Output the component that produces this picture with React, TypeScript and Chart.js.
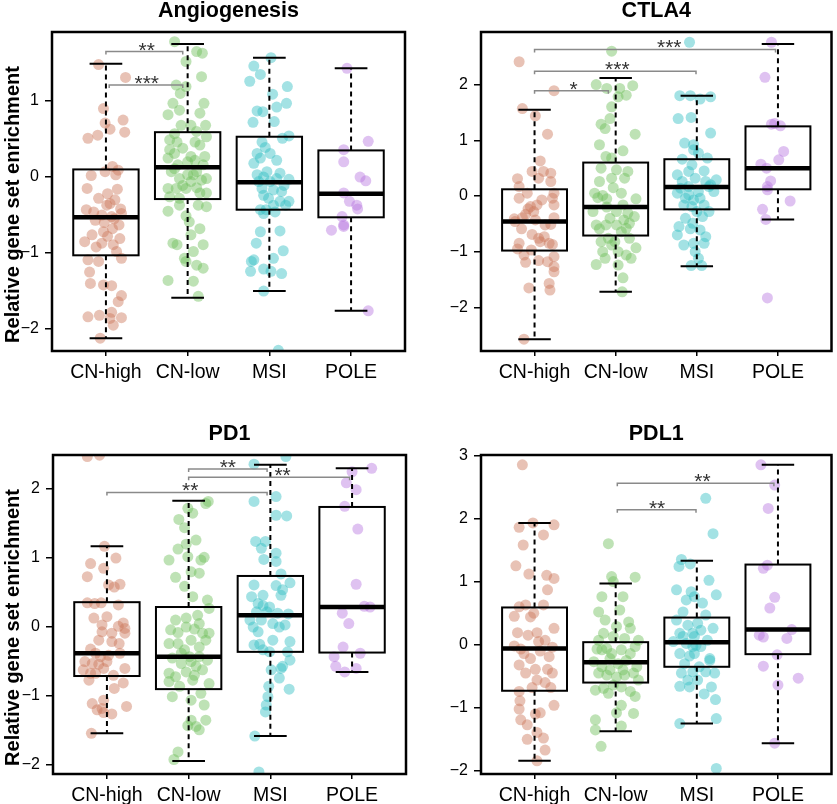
import React, { useEffect, useRef } from "react";
import { Chart, registerables } from "chart.js";

Chart.register(...registerables);

type Pt = [number, number]; // [horizontal jitter in category units, value]

const FONT = "'Liberation Sans', Arial, Helvetica, sans-serif";
const CATEGORIES = ["CN-high", "CN-low", "MSI", "POLE"];
const Y_AXIS_TITLE = "Relative gene set enrichment";
const POINT_COLORS = [
  "rgba(205,120,90,0.45)",
  "rgba(110,190,90,0.45)",
  "rgba(50,190,195,0.45)",
  "rgba(185,120,225,0.45)",
];

// ---------------- Angiogenesis ----------------
const ANGIO_CN_HIGH: Pt[] = [
  [-0.07, -2.12], [-0.09, 1.48], [0.24, 1.31], [-0.03, 0.9], [0.21, 0.75], [-0.01, 0.71], [0.05, 0.63], [-0.22, 0.51],
  [-0.1, 0.55], [0.23, 0.59], [0.08, 0.14], [-0.01, 0.07], [0.15, 0.09], [0.12, 0.03], [-0.23, -0.15], [0.14, -0.16],
  [-0.09, -0.28], [0.01, -0.37], [0.11, -0.3], [-0.24, -0.43], [-0.15, -0.46], [-0.05, -0.5], [-0.13, -0.57], [0.19, -0.48],
  [0.07, -0.52], [0.16, -0.63], [-0.03, -0.72], [-0.17, -0.76], [-0.26, -0.85], [-0.05, -0.87], [0.17, -0.81], [0.09, -0.89],
  [0.13, -0.98], [-0.22, -1.09], [-0.09, -1.11], [0.19, -1.07], [-0.2, -1.25], [-0.19, -1.4], [-0.03, -1.42], [0.07, -1.43],
  [0.19, -1.56], [0.15, -1.64], [-0.22, -1.84], [-0.08, -1.82], [0.07, -1.78], [0.19, -1.85], [0.09, -1.95], [0.05, -1.86],
  [0.05, -0.35], [0.1, -0.55], [-0.02, -0.6], [0.18, -0.42], [0.08, -0.68], [0.02, -0.78], [-0.12, -0.92], [-0.18, 0.02],
  [0.02, -0.22],
];
const ANGIO_CN_LOW: Pt[] = [
  [-0.16, 1.78], [0.11, 1.65], [0.18, 1.63], [-0.02, 1.52], [0.17, 1.32], [-0.14, 1.21], [-0.02, 1.19], [-0.09, 1.1],
  [-0.18, 0.97], [0.2, 0.97], [-0.1, 0.88], [-0.24, 0.82], [0.15, 0.84], [0.04, 0.68], [0.22, 0.68], [0.11, 0.6],
  [-0.22, 0.49], [-0.13, 0.46], [-0.22, 0.36], [-0.06, 0.38], [0.15, 0.42], [0.23, 0.53], [0.04, 0.27], [0.0, 0.2],
  [0.09, 0.22], [-0.12, 0.16], [0.19, 0.16], [0.23, -0.02], [-0.1, -0.02], [0.0, 0.03], [0.11, 0.07], [-0.24, -0.15],
  [-0.14, -0.15], [-0.02, -0.15], [0.11, -0.14], [0.23, -0.21], [0.15, -0.21], [-0.22, -0.26], [-0.1, -0.28], [-0.24, -0.45],
  [-0.02, -0.51], [0.13, -0.37], [0.15, -0.68], [0.04, -0.76], [-0.18, -0.87], [-0.13, -0.89], [0.19, -0.89], [0.07, -0.98],
  [-0.02, -1.11], [0.11, -1.16], [0.19, -1.2], [-0.24, -1.36], [0.07, -1.37], [0.13, -1.57], [-0.04, -1.07], [-0.2, 0.07],
  [0.17, -0.04], [-0.16, 0.11], [0.07, 0.03], [-0.06, -0.11], [0.04, -0.06], [-0.24, 0.25], [-0.16, 0.31], [0.21, 0.27],
  [-0.08, 0.68], [-0.16, 0.57], [0.09, 0.46], [-0.1, -0.37], [0.23, -0.39], [0.02, -0.59],
];
const ANGIO_MSI: Pt[] = [
  [0.02, 1.57], [-0.19, 1.46], [-0.11, 1.35], [-0.24, 1.26], [0.22, 1.19], [0.04, 1.09], [0.21, 0.97], [0.09, 0.92],
  [-0.15, 0.87], [-0.08, 0.86], [-0.2, 0.72], [0.06, 0.73], [0.24, 0.54], [0.16, 0.51], [-0.09, 0.46], [-0.05, 0.39],
  [-0.15, 0.31], [-0.19, 0.18], [0.09, 0.22], [-0.15, 0.03], [-0.07, 0.0], [0.13, 0.05], [0.24, -0.03], [0.01, -0.06],
  [0.18, -0.11], [-0.09, -0.15], [0.05, -0.17], [-0.07, -0.24], [0.13, -0.32], [0.2, -0.37], [0.05, -0.37], [-0.11, -0.43],
  [-0.07, -0.48], [-0.11, -0.72], [0.13, -0.71], [-0.16, -0.87], [0.17, -0.97], [-0.22, -1.11], [-0.19, -1.09], [-0.23, -1.24],
  [0.05, -1.07], [-0.07, -1.21], [0.02, -1.24], [0.15, -1.27], [-0.07, -1.5], [0.11, -2.28], [-0.03, 0.07], [0.09, -0.02],
  [-0.13, -0.06], [-0.01, -0.28], [0.24, -0.32], [0.15, -0.19], [0.01, 0.31], [-0.11, 0.25], [-0.04, -0.43], [0.07, -0.46],
];
const ANGIO_POLE: Pt[] = [
  [-0.05, 1.43], [0.21, 0.47], [-0.09, 0.36], [-0.09, 0.2], [0.11, 0.0], [0.18, -0.05], [-0.09, -0.21], [-0.02, -0.32],
  [0.07, -0.37], [0.08, -0.42], [-0.11, -0.52], [-0.09, -0.63], [-0.09, -0.65], [-0.24, -0.7], [0.21, -1.76],
];
const ANGIO_WHISKER_LOW = [-2.12, -1.59, -1.5, -1.76];
const ANGIO_Q1 = [-1.03, -0.29, -0.43, -0.53];
const ANGIO_MEDIAN = [-0.53, 0.13, -0.07, -0.22];
const ANGIO_Q3 = [0.1, 0.59, 0.53, 0.35];
const ANGIO_WHISKER_HIGH = [1.49, 1.75, 1.57, 1.43];
const ANGIO_Y_RANGE = [-2.289, 1.908];
const ANGIO_Y_TICKS = [-2, -1, 0, 1];
const ANGIO_SIG_FROM = [1.0, 1.04];
const ANGIO_SIG_TO = [1.94, 1.94];
const ANGIO_SIG_Y = [1.65, 1.21];
const ANGIO_SIG_LABEL = ["**", "***"];
const ANGIO_SIG_LABEL_X = [1.5, 1.5];

// ---------------- CTLA4 ----------------
const CTLA4_CN_HIGH: Pt[] = [
  [-0.19, 2.41], [0.24, 1.89], [-0.15, 1.57], [0.01, 1.44], [0.16, 1.11], [0.07, 0.63], [-0.03, 0.44], [0.11, 0.44],
  [0.2, 0.41], [-0.21, 0.31], [0.05, 0.32], [0.2, 0.26], [-0.19, 0.17], [0.24, 0.05], [0.22, -0.04], [-0.05, -0.19],
  [-0.08, -0.23], [0.24, -0.16], [-0.11, -0.33], [-0.25, -0.41], [-0.15, -0.39], [0.2, -0.51], [-0.16, -0.59], [-0.03, -0.69],
  [0.05, -0.76], [0.12, -0.73], [0.18, -0.85], [0.22, -0.87], [0.07, -0.82], [-0.19, -0.85], [-0.21, -0.95], [-0.04, -0.97],
  [0.24, -1.09], [-0.11, -1.19], [0.05, -1.16], [0.16, -1.18], [0.24, -1.27], [0.24, -1.36], [-0.07, -1.65], [0.18, -1.57],
  [0.19, -1.69], [-0.13, -2.57], [-0.24, -0.46], [0.01, -0.43], [0.13, -0.52], [-0.09, 0.05], [0.03, -0.16], [-0.01, -0.28],
  [-0.19, -0.04], [0.24, -0.39], [0.09, -0.07], [-0.13, -1.06],
];
const CTLA4_CN_LOW: Pt[] = [
  [-0.05, 2.6], [-0.24, 2.0], [-0.11, 1.93], [0.05, 1.93], [0.21, 1.98], [0.13, 1.81], [0.03, 1.78], [-0.05, 1.6],
  [-0.07, 1.39], [-0.13, 1.21], [-0.18, 1.29], [0.24, 1.11], [-0.2, 0.92], [0.09, 0.81], [-0.12, 0.71], [-0.05, 0.68],
  [0.15, 0.44], [-0.18, 0.5], [0.01, 0.47], [-0.05, 0.32], [0.11, 0.32], [-0.22, -0.03], [-0.16, 0.01], [-0.11, -0.05],
  [0.07, 0.05], [0.25, -0.05], [-0.28, -0.28], [0.15, -0.31], [0.23, -0.37], [0.1, -0.43], [0.17, -0.49], [0.01, -0.52],
  [-0.12, -0.52], [-0.2, -0.59], [0.07, -0.64], [0.25, -0.93], [-0.05, -0.88], [-0.16, -1.0], [-0.13, -1.12], [0.13, -1.06],
  [0.03, -1.24], [-0.24, -1.23], [0.09, -1.47], [0.08, -1.72], [-0.09, -0.76], [-0.01, -0.82], [-0.18, -0.82], [0.17, -0.76],
  [-0.24, -0.52], [-0.07, -0.4], [0.13, -0.58], [0.01, -0.28], [-0.11, -0.2], [-0.26, 0.05], [-0.03, 0.15], [-0.2, 0.26],
  [0.03, -1.0], [0.19, -1.12], [0.09, -0.16],
];
const CTLA4_MSI: Pt[] = [
  [-0.09, 2.76], [-0.21, 1.8], [-0.08, 1.8], [0.17, 1.78], [0.04, 1.74], [-0.23, 1.39], [-0.07, 1.41], [0.17, 1.13],
  [-0.15, 0.95], [-0.04, 0.83], [0.02, 0.77], [-0.18, 0.66], [0.13, 0.68], [-0.06, 0.56], [-0.24, 0.38], [-0.1, 0.44],
  [0.09, 0.45], [-0.02, 0.32], [0.11, 0.26], [0.24, 0.29], [-0.2, 0.14], [-0.1, 0.17], [0.15, 0.17], [0.21, 0.08],
  [-0.24, 0.05], [-0.14, -0.04], [-0.04, -0.07], [0.04, -0.04], [-0.16, -0.16], [-0.06, -0.19], [0.07, -0.37], [-0.22, -0.55],
  [-0.24, -0.7], [-0.08, -0.59], [0.04, -0.61], [0.11, -0.73], [-0.16, -0.88], [-0.04, -0.85], [0.09, -0.85], [-0.02, -1.0],
  [0.02, -1.12], [-0.07, -1.25], [0.06, -1.25], [0.17, 0.2], [-0.18, 0.26], [0.02, 0.08], [-0.1, 0.02], [0.09, -0.16],
  [0.0, -0.28], [-0.14, -0.4], [0.15, -0.28], [-0.05, -0.49], [-0.04, 0.92],
];
const CTLA4_POLE: Pt[] = [
  [-0.08, 2.76], [-0.16, 2.13], [-0.08, 1.29], [0.03, 1.26], [-0.04, 1.3], [0.07, 0.8], [0.01, 0.65], [-0.21, 0.57],
  [-0.14, 0.5], [-0.09, 0.27], [-0.13, 0.17], [-0.13, 0.11], [0.15, -0.09], [-0.19, -0.24], [-0.15, -0.42], [-0.13, -1.83],
];
const CTLA4_WHISKER_LOW = [-2.57, -1.72, -1.26, -0.42];
const CTLA4_Q1 = [-0.98, -0.71, -0.24, 0.12];
const CTLA4_MEDIAN = [-0.46, -0.2, 0.16, 0.5];
const CTLA4_Q3 = [0.12, 0.6, 0.66, 1.25];
const CTLA4_WHISKER_HIGH = [1.55, 2.12, 1.8, 2.73];
const CTLA4_Y_RANGE = [-2.783, 2.944];
const CTLA4_Y_TICKS = [-2, -1, 0, 1, 2];
const CTLA4_SIG_FROM = [1.0, 1.0, 1.0];
const CTLA4_SIG_TO = [3.97, 2.99, 1.91];
const CTLA4_SIG_Y = [2.63, 2.24, 1.89];
const CTLA4_SIG_LABEL = ["***", "***", "*"];
const CTLA4_SIG_LABEL_X = [2.66, 2.02, 1.48];

// ---------------- PD1 ----------------
const PD1_CN_HIGH: Pt[] = [
  [-0.24, 2.47], [-0.09, 2.49], [-0.03, 1.17], [0.11, 1.0], [-0.2, 0.92], [-0.04, 0.85], [-0.24, 0.73], [0.02, 0.61],
  [0.09, 0.58], [0.16, 0.62], [-0.24, 0.35], [-0.15, 0.34], [-0.07, 0.35], [0.14, 0.32], [-0.16, 0.13], [0.0, 0.15],
  [0.2, 0.06], [0.14, 0.01], [0.22, -0.02], [-0.06, -0.07], [0.06, -0.21], [0.15, -0.24], [-0.1, -0.19], [-0.2, -0.32],
  [-0.14, -0.38], [-0.08, -0.43], [0.02, -0.41], [0.16, -0.38], [-0.27, -0.5], [-0.18, -0.53], [-0.1, -0.54], [-0.04, -0.6],
  [-0.29, -0.62], [-0.2, -0.67], [0.22, -0.6], [0.08, -0.7], [0.2, -0.81], [0.09, -0.89], [-0.18, -1.11], [-0.04, -1.06],
  [0.24, -1.15], [-0.12, -1.2], [-0.04, -1.24], [0.06, -1.26], [-0.06, -1.18], [-0.19, -1.54], [0.0, -0.5], [0.06, -0.09],
  [0.22, -0.09], [-0.06, 0.03], [-0.22, -0.77], [-0.14, -0.67],
];
const PD1_CN_LOW: Pt[] = [
  [0.24, 1.82], [0.21, 1.79], [-0.01, 1.72], [0.05, 1.65], [-0.12, 1.56], [-0.05, 1.44], [-0.13, 1.13], [-0.03, 1.2],
  [-0.24, 0.97], [0.19, 1.01], [0.15, 0.97], [0.03, 0.8], [0.13, 0.78], [-0.16, 0.72], [-0.05, 0.59], [0.05, 0.44],
  [0.23, 0.39], [0.25, 0.27], [-0.03, 0.13], [0.11, 0.17], [-0.16, 0.1], [-0.22, -0.04], [-0.13, -0.08], [0.07, -0.03],
  [0.17, -0.09], [0.25, -0.09], [-0.24, -0.24], [-0.13, -0.24], [0.03, -0.19], [0.13, -0.29], [-0.05, -0.33], [-0.2, -0.45],
  [-0.09, -0.53], [0.03, -0.5], [0.13, -0.43], [0.23, -0.48], [-0.24, -0.67], [-0.16, -0.72], [-0.03, -0.65], [0.07, -0.7],
  [0.17, -0.62], [-0.24, -0.79], [0.05, -0.77], [0.25, -0.82], [-0.2, -1.01], [0.15, -0.96], [0.19, -1.13], [0.03, -1.35],
  [-0.01, -1.43], [0.09, -1.44], [0.21, -1.35], [0.13, -1.49], [-0.13, -1.81], [-0.18, -1.92], [0.09, 1.26], [-0.01, 1.02],
  [0.21, -0.19], [-0.09, -0.38], [0.01, -0.43], [0.09, -0.57], [-0.11, -0.86], [0.03, -1.06], [-0.03, 0.0], [0.13, 0.05],
];
const PD1_MSI: Pt[] = [
  [-0.2, 2.36], [0.19, 2.47], [0.07, 1.89], [-0.2, 1.82], [0.07, 1.62], [0.2, 1.61], [-0.18, 1.24], [-0.06, 1.24],
  [-0.11, 1.14], [-0.08, 0.98], [0.07, 1.07], [0.07, 0.95], [0.13, 0.77], [-0.2, 0.61], [0.07, 0.6], [0.24, 0.64],
  [0.15, 0.54], [0.13, 0.46], [-0.15, 0.34], [-0.09, 0.31], [-0.17, 0.22], [-0.04, 0.22], [0.22, 0.19], [-0.25, 0.1],
  [-0.11, 0.1], [0.03, 0.05], [0.18, 0.03], [-0.21, 0.0], [-0.15, -0.07], [0.24, -0.21], [-0.2, -0.26], [-0.13, -0.25],
  [-0.09, -0.33], [-0.01, -0.36], [0.24, -0.48], [0.21, -0.36], [0.15, -0.57], [0.01, -0.62], [0.11, -0.74], [0.23, -0.9],
  [-0.02, -0.86], [-0.03, -1.01], [-0.05, -1.13], [-0.06, -1.23], [-0.19, -1.58], [-0.14, -2.1], [0.13, -0.6], [-0.23, 0.44],
  [-0.01, 0.29], [0.09, 0.2], [-0.09, 0.46], [0.03, -0.19], [0.11, 0.0],
];
const PD1_POLE: Pt[] = [
  [0.24, 2.3], [0.0, 2.25], [-0.07, 2.09], [0.05, 1.99], [-0.09, 1.75], [0.07, 1.42], [0.05, 0.62], [0.15, 0.3],
  [0.22, 0.29], [-0.12, 0.2], [-0.04, 0.05], [-0.11, -0.29], [0.1, -0.38], [-0.22, -0.43], [-0.2, -0.57], [-0.09, -0.65],
  [0.05, -0.6],
];
const PD1_WHISKER_LOW = [-1.54, -1.94, -1.58, -0.65];
const PD1_Q1 = [-0.71, -0.9, -0.36, -0.37];
const PD1_MEDIAN = [-0.38, -0.43, 0.17, 0.29];
const PD1_Q3 = [0.36, 0.29, 0.74, 1.74];
const PD1_WHISKER_HIGH = [1.17, 1.83, 2.35, 2.3];
const PD1_Y_RANGE = [-2.13, 2.493];
const PD1_Y_TICKS = [-2, -1, 0, 1, 2];
const PD1_SIG_FROM = [2.0, 2.0, 1.0];
const PD1_SIG_TO = [2.96, 3.97, 2.96];
const PD1_SIG_Y = [2.29, 2.17, 1.95];
const PD1_SIG_LABEL = ["**", "**", "**"];
const PD1_SIG_LABEL_X = [2.48, 3.15, 2.02];

// ---------------- PDL1 ----------------
const PDL1_CN_HIGH: Pt[] = [
  [-0.15, 2.85], [-0.19, 1.86], [-0.02, 1.93], [0.24, 1.9], [0.11, 1.74], [-0.14, 1.58], [-0.23, 1.25], [-0.07, 1.12],
  [0.15, 1.1], [0.24, 1.05], [0.16, 0.87], [-0.19, 0.6], [-0.11, 0.63], [0.11, 0.63], [-0.25, 0.45], [-0.05, 0.44],
  [-0.08, 0.15], [0.03, 0.19], [0.13, 0.07], [-0.25, -0.02], [-0.17, -0.07], [0.07, -0.1], [0.22, -0.04], [-0.05, -0.22],
  [-0.19, -0.32], [0.01, -0.39], [0.16, -0.39], [0.13, -0.6], [0.2, -0.68], [-0.19, -0.74], [-0.03, -0.68], [0.24, -0.96],
  [-0.18, -0.89], [-0.19, -1.02], [0.01, -1.1], [0.07, -1.08], [-0.09, -1.27], [0.03, -1.39], [0.11, -1.48], [-0.09, -1.5],
  [0.13, -1.67], [0.03, -1.84], [0.05, 0.05], [-0.13, -0.14], [0.18, -0.19], [0.24, 0.26], [-0.11, -0.45], [0.03, -0.56],
  [-0.21, 0.19], [-0.01, 0.5], [0.22, -0.45], [-0.17, -1.19],
];
const PDL1_CN_LOW: Pt[] = [
  [-0.09, 1.6], [-0.05, 1.08], [-0.03, 1.0], [0.24, 1.07], [-0.17, 0.76], [0.09, 0.76], [0.05, 0.55], [-0.21, 0.52],
  [-0.13, 0.39], [0.16, 0.36], [0.18, 0.26], [-0.15, 0.18], [-0.03, 0.13], [0.11, 0.1], [0.28, 0.07], [-0.23, -0.07],
  [-0.11, -0.06], [0.07, -0.08], [0.24, -0.03], [-0.27, -0.27], [-0.17, -0.35], [-0.07, -0.22], [0.03, -0.3], [0.13, -0.25],
  [0.26, -0.35], [-0.21, -0.45], [-0.11, -0.48], [0.01, -0.51], [0.11, -0.48], [0.22, -0.45], [-0.25, -0.72], [-0.15, -0.69],
  [0.07, -0.67], [0.18, -0.74], [0.24, -0.82], [0.07, -0.96], [0.01, -1.08], [0.22, -1.09], [-0.25, -1.19], [0.07, -1.29],
  [-0.25, -1.35], [-0.18, -1.61], [-0.05, -0.14], [0.18, -0.14], [-0.17, -0.08], [0.09, -0.4], [-0.07, -0.4], [-0.21, 0.07],
  [0.01, 0.29], [0.28, -0.56], [-0.09, -0.77], [-0.03, -0.64],
];
const PDL1_MSI: Pt[] = [
  [0.11, 2.32], [0.2, 1.76], [-0.19, 1.35], [-0.22, 1.24], [-0.08, 1.28], [0.15, 1.02], [-0.25, 0.87], [-0.07, 0.84],
  [0.24, 0.79], [-0.13, 0.71], [-0.03, 0.76], [0.07, 0.66], [-0.17, 0.52], [0.11, 0.47], [-0.25, 0.39], [-0.11, 0.31],
  [0.01, 0.34], [0.2, 0.26], [-0.21, 0.18], [-0.05, 0.18], [-0.29, 0.05], [-0.13, 0.02], [-0.01, -0.01], [0.05, -0.03],
  [0.16, -0.22], [-0.21, -0.14], [-0.09, -0.18], [0.16, -0.25], [-0.19, -0.45], [-0.05, -0.43], [0.11, -0.43], [0.22, -0.45],
  [-0.21, -0.66], [-0.09, -0.67], [0.18, -0.67], [0.09, -0.78], [0.23, -0.87], [0.24, -1.17], [-0.21, -1.25], [0.24, -1.96],
  [-0.05, -0.03], [-0.15, -0.3], [0.03, -0.35], [-0.03, 0.13], [-0.11, -0.56], [0.01, -0.56], [0.13, 0.07], [-0.17, 0.13],
  [-0.03, -0.14], [0.05, 0.23],
];
const PDL1_POLE: Pt[] = [
  [-0.21, 2.85], [-0.04, 2.53], [-0.12, 2.16], [-0.13, 1.26], [-0.18, 1.21], [-0.04, 0.75], [-0.1, 0.58], [0.17, 0.24],
  [-0.23, 0.15], [-0.18, 0.12], [0.11, 0.1], [-0.01, -0.16], [-0.18, -0.34], [0.25, -0.53], [0.0, -0.64], [-0.04, -1.56],
];
const PDL1_WHISKER_LOW = [-1.84, -1.37, -1.25, -1.56];
const PDL1_Q1 = [-0.73, -0.6, -0.35, -0.15];
const PDL1_MEDIAN = [-0.06, -0.28, 0.04, 0.24];
const PDL1_Q3 = [0.59, 0.04, 0.43, 1.27];
const PDL1_WHISKER_HIGH = [1.93, 0.97, 1.33, 2.85];
const PDL1_Y_RANGE = [-2.049, 3.006];
const PDL1_Y_TICKS = [-2, -1, 0, 1, 2, 3];
const PDL1_SIG_FROM = [2.02, 2.02];
const PDL1_SIG_TO = [3.95, 2.99];
const PDL1_SIG_Y = [2.56, 2.14];
const PDL1_SIG_LABEL = ["**", "**"];
const PDL1_SIG_LABEL_X = [3.07, 2.51];

type Spec = {
  title: string;
  groups: Pt[][];
  low: number[];
  q1: number[];
  med: number[];
  q3: number[];
  high: number[];
  yRange: number[];
  yTicks: number[];
  sigFrom: number[];
  sigTo: number[];
  sigY: number[];
  sigLabel: string[];
  sigLabelX: number[];
};

type Frame = {
  left: number; top: number; width: number; height: number;
  l: number; r: number; t: number; b: number; titleTop: number; yTitle: boolean;
};

const SPECS: Spec[] = [
  {
    title: "Angiogenesis", groups: [ANGIO_CN_HIGH, ANGIO_CN_LOW, ANGIO_MSI, ANGIO_POLE],
    low: ANGIO_WHISKER_LOW, q1: ANGIO_Q1, med: ANGIO_MEDIAN, q3: ANGIO_Q3, high: ANGIO_WHISKER_HIGH,
    yRange: ANGIO_Y_RANGE, yTicks: ANGIO_Y_TICKS,
    sigFrom: ANGIO_SIG_FROM, sigTo: ANGIO_SIG_TO, sigY: ANGIO_SIG_Y, sigLabel: ANGIO_SIG_LABEL, sigLabelX: ANGIO_SIG_LABEL_X,
  },
  {
    title: "CTLA4", groups: [CTLA4_CN_HIGH, CTLA4_CN_LOW, CTLA4_MSI, CTLA4_POLE],
    low: CTLA4_WHISKER_LOW, q1: CTLA4_Q1, med: CTLA4_MEDIAN, q3: CTLA4_Q3, high: CTLA4_WHISKER_HIGH,
    yRange: CTLA4_Y_RANGE, yTicks: CTLA4_Y_TICKS,
    sigFrom: CTLA4_SIG_FROM, sigTo: CTLA4_SIG_TO, sigY: CTLA4_SIG_Y, sigLabel: CTLA4_SIG_LABEL, sigLabelX: CTLA4_SIG_LABEL_X,
  },
  {
    title: "PD1", groups: [PD1_CN_HIGH, PD1_CN_LOW, PD1_MSI, PD1_POLE],
    low: PD1_WHISKER_LOW, q1: PD1_Q1, med: PD1_MEDIAN, q3: PD1_Q3, high: PD1_WHISKER_HIGH,
    yRange: PD1_Y_RANGE, yTicks: PD1_Y_TICKS,
    sigFrom: PD1_SIG_FROM, sigTo: PD1_SIG_TO, sigY: PD1_SIG_Y, sigLabel: PD1_SIG_LABEL, sigLabelX: PD1_SIG_LABEL_X,
  },
  {
    title: "PDL1", groups: [PDL1_CN_HIGH, PDL1_CN_LOW, PDL1_MSI, PDL1_POLE],
    low: PDL1_WHISKER_LOW, q1: PDL1_Q1, med: PDL1_MEDIAN, q3: PDL1_Q3, high: PDL1_WHISKER_HIGH,
    yRange: PDL1_Y_RANGE, yTicks: PDL1_Y_TICKS,
    sigFrom: PDL1_SIG_FROM, sigTo: PDL1_SIG_TO, sigY: PDL1_SIG_Y, sigLabel: PDL1_SIG_LABEL, sigLabelX: PDL1_SIG_LABEL_X,
  },
];

const FRAMES: Frame[] = [
  { left: 0, top: 0, width: 418, height: 402, l: 52, r: 405, t: 32, b: 351, titleTop: 0, yTitle: true },
  { left: 418, top: 0, width: 419, height: 402, l: 63, r: 415, t: 32, b: 351, titleTop: 0, yTitle: false },
  { left: 0, top: 402, width: 418, height: 402, l: 53, r: 406, t: 53, b: 372, titleTop: 21, yTitle: true },
  { left: 418, top: 402, width: 419, height: 402, l: 63, r: 415, t: 53, b: 372, titleTop: 21, yTitle: false },
];

const TITLE_SIZE = 21.5;

function fmtTick(v: number): string {
  return v < 0 ? "\u2212" + String(-v) : String(v);
}

function Panel({ spec, frame }: { spec: Spec; frame: Frame }) {
  const ref = useRef<HTMLCanvasElement | null>(null);

  useEffect(() => {
    const canvas = ref.current;
    if (!canvas) return;

    const overlay: any = {
      id: "boxOverlay",
      afterDatasetsDraw(chart: any) {
        const ctx = chart.ctx;
        const xs = chart.scales.x;
        const ys = chart.scales.y;
        ctx.save();
        ctx.strokeStyle = "#000";
        ctx.lineCap = "butt";
        for (let i = 0; i < 4; i++) {
          const c = i + 1;
          const xc = xs.getPixelForValue(c);
          const xl = xs.getPixelForValue(c - 0.4);
          const xr = xs.getPixelForValue(c + 0.4);
          const cl = xs.getPixelForValue(c - 0.2);
          const cr = xs.getPixelForValue(c + 0.2);
          const yLow = ys.getPixelForValue(spec.low[i]);
          const yQ1 = ys.getPixelForValue(spec.q1[i]);
          const yMed = ys.getPixelForValue(spec.med[i]);
          const yQ3 = ys.getPixelForValue(spec.q3[i]);
          const yHigh = ys.getPixelForValue(spec.high[i]);
          ctx.lineWidth = 2;
          ctx.setLineDash([5, 4]);
          ctx.beginPath();
          ctx.moveTo(xc, yQ3);
          ctx.lineTo(xc, yHigh);
          ctx.moveTo(xc, yQ1);
          ctx.lineTo(xc, yLow);
          ctx.stroke();
          ctx.setLineDash([]);
          ctx.beginPath();
          ctx.moveTo(cl, yHigh);
          ctx.lineTo(cr, yHigh);
          ctx.moveTo(cl, yLow);
          ctx.lineTo(cr, yLow);
          ctx.stroke();
          ctx.strokeRect(xl, yQ3, xr - xl, yQ1 - yQ3);
          ctx.lineWidth = 4.5;
          ctx.beginPath();
          ctx.moveTo(xl, yMed);
          ctx.lineTo(xr, yMed);
          ctx.stroke();
        }
        ctx.strokeStyle = "#8a8a8a";
        ctx.lineWidth = 1.5;
        ctx.fillStyle = "#333";
        ctx.font = `21px ${FONT}`;
        ctx.textAlign = "center";
        ctx.textBaseline = "alphabetic";
        for (let k = 0; k < spec.sigY.length; k++) {
          const y = ys.getPixelForValue(spec.sigY[k]);
          const x1 = xs.getPixelForValue(spec.sigFrom[k]);
          const x2 = xs.getPixelForValue(spec.sigTo[k]);
          ctx.beginPath();
          ctx.moveTo(x1, y + 3);
          ctx.lineTo(x1, y);
          ctx.lineTo(x2, y);
          ctx.lineTo(x2, y + 3);
          ctx.stroke();
          ctx.fillText(spec.sigLabel[k], xs.getPixelForValue(spec.sigLabelX[k]), y + 5);
        }
        ctx.restore();
      },
      afterDraw(chart: any) {
        const ctx = chart.ctx;
        const a = chart.chartArea;
        ctx.save();
        ctx.strokeStyle = "#000";
        ctx.lineWidth = 2.5;
        ctx.strokeRect(a.left, a.top, a.right - a.left, a.bottom - a.top);
        if (frame.yTitle) {
          ctx.translate(13, (a.top + a.bottom) / 2 + 13);
          ctx.rotate(-Math.PI / 2);
          ctx.fillStyle = "#000";
          ctx.font = `bold 20px ${FONT}`;
          ctx.textAlign = "center";
          ctx.textBaseline = "middle";
          ctx.fillText(Y_AXIS_TITLE, 0, 0);
        }
        ctx.restore();
      },
    };

    const chart = new Chart(canvas, {
      type: "scatter",
      data: {
        datasets: spec.groups.map((pts, gi) => ({
          label: CATEGORIES[gi],
          data: pts.map(([j, v]) => ({ x: gi + 1 + j, y: v })),
          backgroundColor: POINT_COLORS[gi],
          borderWidth: 0,
          pointRadius: 5.5,
          pointHoverRadius: 5.5,
          clip: 0,
        })),
      },
      options: {
        responsive: false,
        animation: false,
        events: [],
        layout: { padding: { left: 0, right: frame.width - frame.r, top: frame.titleTop, bottom: 0 } },
        plugins: {
          legend: { display: false },
          tooltip: { enabled: false },
          title: {
            display: true,
            fullSize: false,
            text: spec.title,
            color: "#000",
            font: { family: FONT, size: TITLE_SIZE, weight: "bold", lineHeight: 1 },
            padding: { top: 0.5, bottom: frame.t - frame.titleTop - 0.5 - TITLE_SIZE },
          },
        },
        scales: {
          x: {
            type: "linear",
            min: 0.34,
            max: 4.66,
            afterBuildTicks: (s: any) => {
              s.ticks = CATEGORIES.map((_, i) => ({ value: i + 1 }));
            },
            afterFit: (s: any) => {
              s.height = frame.height - frame.b;
            },
            ticks: {
              autoSkip: false,
              maxRotation: 0,
              minRotation: 0,
              padding: 5,
              color: "#000",
              font: { family: FONT, size: 19.5 },
              callback: (v: any) => CATEGORIES[Number(v) - 1] ?? "",
            },
            grid: { drawOnChartArea: false, drawTicks: true, tickLength: 5, color: "#000", lineWidth: 1.5 },
            border: { display: false },
          },
          y: {
            type: "linear",
            min: spec.yRange[0],
            max: spec.yRange[1],
            afterBuildTicks: (s: any) => {
              s.ticks = spec.yTicks.map((v) => ({ value: v }));
            },
            afterFit: (s: any) => {
              s.width = frame.l;
            },
            ticks: {
              autoSkip: false,
              padding: 6,
              color: "#000",
              font: { family: FONT, size: 16 },
              callback: (v: any) => fmtTick(Number(v)),
            },
            grid: { drawOnChartArea: false, drawTicks: true, tickLength: 7, color: "#000", lineWidth: 1.5 },
            border: { display: false },
          },
        },
      } as any,
      plugins: [overlay],
    });

    return () => {
      chart.destroy();
    };
  }, [spec, frame]);

  return (
    <canvas
      ref={ref}
      width={frame.width}
      height={frame.height}
      style={{ position: "absolute", left: frame.left, top: frame.top, width: frame.width, height: frame.height, display: "block" }}
    />
  );
}

export default function App() {
  return (
    <div
      style={{
        position: "fixed",
        left: 0,
        top: 0,
        width: 837,
        height: 804,
        overflow: "hidden",
        background: "#fff",
      }}
    >
      {SPECS.map((s, i) => (
        <Panel key={s.title} spec={s} frame={FRAMES[i]} />
      ))}
    </div>
  );
}
